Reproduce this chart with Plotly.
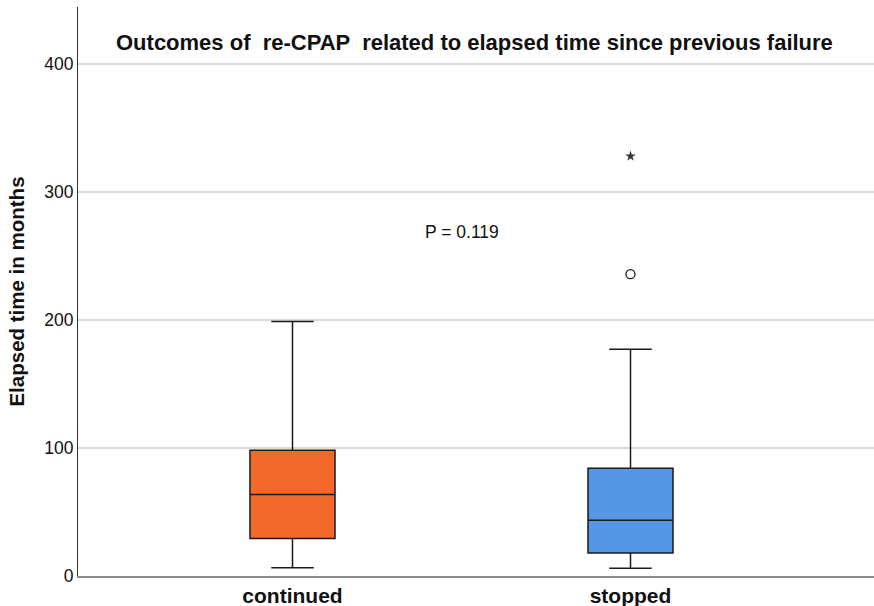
import plotly.graph_objects as go

categories = ["continued", "stopped"]
lower_whisker = [6.5, 6.0]
q1_values = [29.2, 18.0]
medians = [63.6, 43.5]
q3_values = [98.2, 84.1]
upper_whisker = [198.8, 177.1]
box_colors = ["#F2692C", "#5596E5"]

outlier_cat = ["stopped"]
outlier_circle = [235.8]
extreme_cat = ["stopped"]
extreme_star = [328.0]

title_text = "Outcomes of  re-CPAP  related to elapsed time since previous failure"
y_title = "Elapsed time in months"
p_text = "P = 0.119"
y_ticks = [0, 100, 200, 300, 400]

FONT = "Arial, 'Liberation Sans', sans-serif"

fig = go.Figure()
for i, cat in enumerate(categories):
    fig.add_trace(go.Box(
        x=[cat],
        q1=[q1_values[i]], median=[medians[i]], q3=[q3_values[i]],
        lowerfence=[lower_whisker[i]], upperfence=[upper_whisker[i]],
        fillcolor=box_colors[i],
        line=dict(color="#1a1a1a", width=1.5),
        width=0.2515,
        whiskerwidth=0.5,
        boxpoints=False,
        showlegend=False,
        hoverinfo="skip",
    ))

fig.add_trace(go.Scatter(
    x=outlier_cat, y=outlier_circle, mode="markers",
    marker=dict(symbol="circle-open", size=9, color="#1a1a1a", line=dict(width=1.3)),
    showlegend=False, hoverinfo="skip"))
fig.add_trace(go.Scatter(
    x=extreme_cat, y=extreme_star, mode="markers",
    marker=dict(symbol="star", size=8, color="#333333"),
    showlegend=False, hoverinfo="skip"))

fig.add_annotation(
    x=0.5, y=269, xref="x", yref="y", text=p_text, showarrow=False,
    font=dict(family=FONT, size=17.5, color="#111111"))

fig.add_annotation(
    x=0.4986, xref="paper", y=417, yref="y",
    text="<b>" + title_text + "</b>", showarrow=False,
    font=dict(family=FONT, size=22, color="#111111"))

fig.update_layout(
    width=874, height=606,
    margin=dict(l=78, r=0, t=7, b=30),
    plot_bgcolor="white", paper_bgcolor="white",
    font=dict(family=FONT, color="#111111"),
    xaxis=dict(
        type="category",
        categoryorder="array", categoryarray=categories,
        range=[-0.6346, 1.7204],
        showgrid=False, zeroline=False,
        showline=True, linecolor="#8c8c8c", linewidth=1.5,
        ticks="", ticklen=0,
        tickvals=categories,
        ticktext=["<b>" + c + "</b>" for c in categories],
        tickfont=dict(family=FONT, size=21, color="#111111"),
    ),
    yaxis=dict(
        range=[0, 444.5],
        tickvals=y_ticks,
        showgrid=True, gridcolor="#d9d9d9", gridwidth=1.5,
        zeroline=False,
        showline=True, linecolor="#333333", linewidth=1.2,
        ticks="", ticklen=0,
        tickfont=dict(family=FONT, size=17.5, color="#111111"),
        title=dict(text="<b>" + y_title + "</b>", font=dict(family=FONT, size=20.5, color="#111111"), standoff=14),
    ),
)

fig.write_html("out.html")
